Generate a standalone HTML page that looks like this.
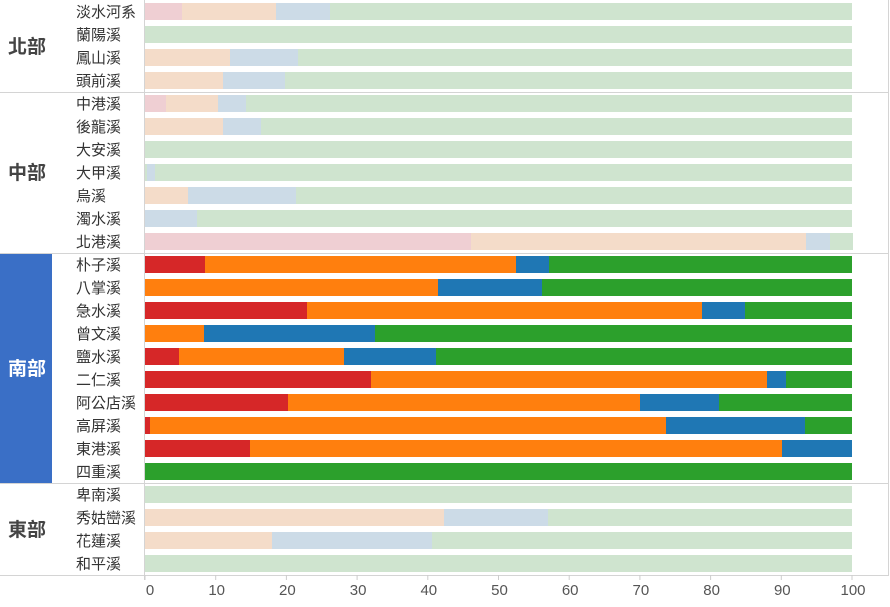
<!DOCTYPE html>
<html><head><meta charset="utf-8"><style>
body{margin:0;background:#fff;}
text{font-family:"Liberation Sans","Noto Sans CJK TC",sans-serif;}
</style></head><body>
<svg width="890" height="602" xmlns="http://www.w3.org/2000/svg">
<rect x="0" y="253" width="52" height="230" fill="#3a6fc6"/>
<g id="bars"></g>
<g stroke="#d4d4d4" stroke-width="1">
<line x1="0" y1="92.5" x2="889" y2="92.5"/>
<line x1="0" y1="253.5" x2="889" y2="253.5"/>
<line x1="0" y1="483.5" x2="889" y2="483.5"/>
<line x1="0" y1="575.5" x2="889" y2="575.5"/>
<line x1="144.5" y1="0" x2="144.5" y2="580"/>
<line x1="888.5" y1="0" x2="888.5" y2="576"/>
</g>
<g font-size="19" font-weight="bold" fill="#444" text-anchor="middle">
<text x="27" y="53">北部</text>
<text x="27" y="179">中部</text>
<text x="27" y="375" fill="#fff">南部</text>
<text x="27" y="536">東部</text>
</g>
<g id="names" font-size="15" fill="#333"></g>
<g id="ticks" font-size="15" fill="#555" text-anchor="middle"></g>
<script>
var rows=[
["淡水河系",[[182,'#efcfd3'],[276,'#f4dcc9'],[330,'#ccdbe7'],[852,'#cfe4cf']],1],
["蘭陽溪",[[852,'#cfe4cf']],1],
["鳳山溪",[[230,'#f4dcc9'],[298,'#ccdbe7'],[852,'#cfe4cf']],1],
["頭前溪",[[223,'#f4dcc9'],[285,'#ccdbe7'],[852,'#cfe4cf']],1],
["中港溪",[[166,'#efcfd3'],[218,'#f4dcc9'],[246,'#ccdbe7'],[852,'#cfe4cf']],1],
["後龍溪",[[223,'#f4dcc9'],[261,'#ccdbe7'],[852,'#cfe4cf']],1],
["大安溪",[[852,'#cfe4cf']],1],
["大甲溪",[[147,'#cfe4cf'],[155,'#ccdbe7'],[852,'#cfe4cf']],1],
["烏溪",[[188,'#f4dcc9'],[296,'#ccdbe7'],[852,'#cfe4cf']],1],
["濁水溪",[[197,'#ccdbe7'],[852,'#cfe4cf']],1],
["北港溪",[[471,'#efcfd3'],[806,'#f4dcc9'],[830,'#ccdbe7'],[853,'#cfe4cf']],1],
["朴子溪",[[205,'#d62728'],[516,'#ff7f0e'],[549,'#1f77b4'],[852,'#2ca02c']]],
["八掌溪",[[438,'#ff7f0e'],[542,'#1f77b4'],[852,'#2ca02c']]],
["急水溪",[[307,'#d62728'],[702,'#ff7f0e'],[745,'#1f77b4'],[852,'#2ca02c']]],
["曾文溪",[[204,'#ff7f0e'],[375,'#1f77b4'],[852,'#2ca02c']]],
["鹽水溪",[[179,'#d62728'],[344,'#ff7f0e'],[436,'#1f77b4'],[852,'#2ca02c']]],
["二仁溪",[[371,'#d62728'],[767,'#ff7f0e'],[786,'#1f77b4'],[852,'#2ca02c']]],
["阿公店溪",[[288,'#d62728'],[640,'#ff7f0e'],[719,'#1f77b4'],[852,'#2ca02c']]],
["高屏溪",[[150,'#d62728'],[666,'#ff7f0e'],[805,'#1f77b4'],[852,'#2ca02c']]],
["東港溪",[[250,'#d62728'],[782,'#ff7f0e'],[852,'#1f77b4']]],
["四重溪",[[852,'#2ca02c']]],
["卑南溪",[[852,'#cfe4cf']]],
["秀姑巒溪",[[444,'#f4dcc9'],[548,'#ccdbe7'],[852,'#cfe4cf']]],
["花蓮溪",[[272,'#f4dcc9'],[432,'#ccdbe7'],[852,'#cfe4cf']]],
["和平溪",[[852,'#cfe4cf']]]
];
var ns="http://www.w3.org/2000/svg",b=document.getElementById('bars'),n=document.getElementById('names'),t=document.getElementById('ticks');
rows.forEach(function(r,i){var y=3+i*23,x=145;
r[1].forEach(function(s){var e=document.createElementNS(ns,'rect');e.setAttribute('x',x);e.setAttribute('y',y);e.setAttribute('width',s[0]-x);e.setAttribute('height',17);e.setAttribute('fill',s[1]);b.appendChild(e);x=s[0];});
var tx=document.createElementNS(ns,'text');tx.setAttribute('x',76);tx.setAttribute('y',y+14);tx.textContent=r[0];n.appendChild(tx);});
for(var k=0;k<=10;k++){var x=145+k*70.7;var l=document.createElementNS(ns,'line');l.setAttribute('x1',x);l.setAttribute('x2',x);l.setAttribute('y1',575);l.setAttribute('y2',580);l.setAttribute('stroke','#ccc');t.appendChild(l);
var tx=document.createElementNS(ns,'text');tx.setAttribute('x',x+(k==0?5:1));tx.setAttribute('y',595);tx.textContent=k*10;t.appendChild(tx);}
</script>
</svg>
</body></html>
